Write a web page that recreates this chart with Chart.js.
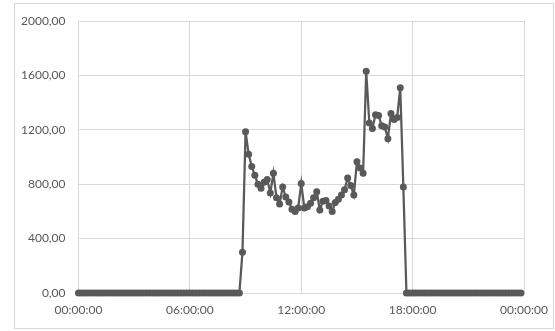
<!DOCTYPE html>
<html><head><meta charset="utf-8">
<script src="https://cdn.jsdelivr.net/npm/chart.js@4/dist/chart.umd.min.js"></script>
<style>html,body{margin:0;padding:0;background:#fff;}#wrap{position:relative;width:555px;height:331px;}</style>
</head><body><div id="wrap"><canvas id="c" width="555" height="331"></canvas></div>
<script>
// time step between readings (minutes), readings start at 00:00
const stepMinutes = 10;
// readings 00:00 ... 23:50
const values = [
  0,0,0,0,0,0, 0,0,0,0,0,0, 0,0,0,0,0,0, 0,0,0,0,0,0,   // 00:00-03:50
  0,0,0,0,0,0, 0,0,0,0,0,0, 0,0,0,0,0,0, 0,0,0,0,0,0,   // 04:00-07:50
  0,0,0,0,0,300,                                        // 08:00-08:50
  1186,1020,930,865,800,770,                            // 09:00-09:50
  815,835,735,880,700,655,                              // 10:00-10:50
  780,705,670,615,600,625,                              // 11:00-11:50
  805,625,635,660,700,745,                              // 12:00-12:50
  610,675,680,640,600,665,                              // 13:00-13:50
  690,720,760,845,790,720,                              // 14:00-14:50
  965,920,880,1630,1250,1210,                           // 15:00-15:50
  1310,1305,1230,1220,1135,1320,                        // 16:00-16:50
  1275,1290,1510,780,0,0,                               // 17:00-17:50
  0,0,0,0,0,0, 0,0,0,0,0,0, 0,0,0,0,0,0,                // 18:00-20:50
  0,0,0,0,0,0, 0,0,0,0,0,0, 0,0,0,0,0,0                 // 21:00-23:50
];
const yTicks = [0, 400, 800, 1200, 1600, 2000];
const xTickLabels = ['00:00:00', '06:00:00', '12:00:00', '18:00:00', '00:00:00'];

const points = values.map((v, i) => ({ x: i * stepMinutes, y: v }));
const fontFam = 'Lato, "Liberation Sans", sans-serif';

const borderPlugin = {
  id: 'outerBorder',
  beforeDraw(chart) {
    const ctx = chart.ctx;
    ctx.save();
    ctx.fillStyle = '#fff';
    ctx.fillRect(0, 0, chart.width, chart.height);
    ctx.strokeStyle = '#d9d9d9';
    ctx.lineWidth = 1;
    ctx.strokeRect(14.5, 3.5, 539, 325);
    ctx.restore();
  }
};

new Chart(document.getElementById('c'), {
  type: 'line',
  data: {
    datasets: [{
      data: points,
      borderColor: '#595959',
      backgroundColor: '#595959',
      borderWidth: 2.25,
      pointRadius: 3.5,
      pointBorderWidth: 0,
      pointBackgroundColor: '#595959',
      tension: 0,
      clip: false
    }]
  },
  options: {
    responsive: false,
    devicePixelRatio: 1,
    animation: false,
    layout: { padding: { left: 14, right: 31, top: 21, bottom: 0 } },
    plugins: { legend: { display: false }, tooltip: { enabled: false } },
    scales: {
      x: {
        type: 'linear',
        min: 0, max: 1440,
        afterBuildTicks(scale) { scale.ticks = xTickLabels.map((l, i) => ({ value: i * 360 })); },
        afterFit(scale) { scale.height = 38; scale.paddingLeft = 0; scale.paddingRight = 0; },
        ticks: {
          autoSkip: false, maxRotation: 0, padding: 10,
          color: '#595959', font: { family: fontFam, size: 12 },
          callback: (v, i) => xTickLabels[i]
        },
        grid: { color: '#d9d9d9', drawTicks: false, lineWidth: 1 },
        border: { color: '#d9d9d9' }
      },
      y: {
        min: 0, max: 2000,
        afterBuildTicks(scale) { scale.ticks = yTicks.map(v => ({ value: v })); },
        afterFit(scale) { scale.width = 64.5; scale.paddingTop = 0; scale.paddingBottom = 0; },
        ticks: {
          padding: 13, color: '#595959', font: { family: fontFam, size: 12 },
          callback: v => v.toFixed(2).replace('.', ',')
        },
        grid: { color: '#d9d9d9', drawTicks: false, lineWidth: 1 },
        border: { color: '#d9d9d9' }
      }
    }
  },
  plugins: [borderPlugin]
});
</script></body></html>
